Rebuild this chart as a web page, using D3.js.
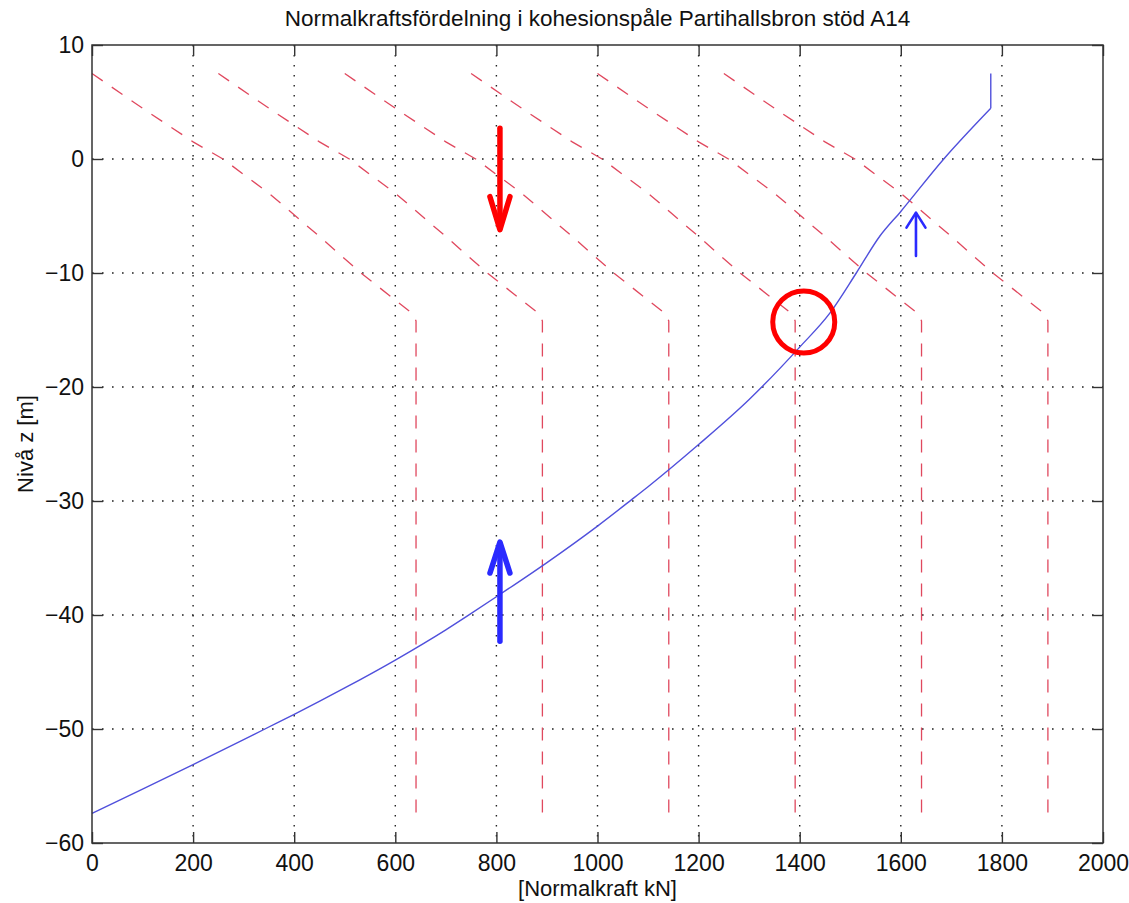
<!DOCTYPE html>
<html>
<head>
<meta charset="utf-8">
<script src="https://cdn.jsdelivr.net/npm/d3@7"></script>
<style>
  html, body { margin: 0; padding: 0; background: #fff; }
  svg { display: block; font-family: "Liberation Sans", Arial, sans-serif; }
</style>
</head>
<body>
<svg id="chart" width="1129" height="903"></svg>
<script>
// ---------------- data ----------------
const title = "Normalkraftsfördelning i kohesionspåle Partihallsbron stöd A14";
const xLabel = "[Normalkraft kN]";
const yLabel = "Nivå z [m]";
const xTicks = [0, 200, 400, 600, 800, 1000, 1200, 1400, 1600, 1800, 2000];
const yTicks = [10, 0, -10, -20, -30, -40, -50, -60];

// red dashed curves (same z levels for all six)
const redZ  = [7.5, 4.45, 1.5, 0, -3.0, -6.8, -10, -13.6, -14.2, -57.5];
const red1N = [0, 100, 200, 259, 350, 450, 532, 635, 641, 641];
const red2N = [250, 350, 450, 509, 600, 700, 782, 885, 891, 891];
const red3N = [500, 600, 700, 759, 850, 950, 1032, 1135, 1141, 1141];
const red4N = [750, 850, 950, 1009, 1100, 1200, 1282, 1385, 1391, 1391];
const red5N = [1000, 1100, 1200, 1259, 1350, 1450, 1532, 1635, 1641, 1641];
const red6N = [1250, 1350, 1450, 1509, 1600, 1700, 1782, 1885, 1891, 1891];
const redSeries = [red1N, red2N, red3N, red4N, red5N, red6N];

// blue curve (smooth part) + vertical top segment
const blueN = [0, 100, 200, 300, 342, 400, 500, 600, 700, 742, 800, 900, 1000, 1067, 1100, 1200, 1300, 1400, 1460, 1512, 1558, 1600, 1685, 1778];
const blueZ = [-57.4, -55.27, -53.12, -50.94, -50.0, -48.72, -46.4, -43.95, -41.3, -40.1, -38.4, -35.4, -32.2, -29.9, -28.75, -25.05, -21.1, -16.5, -13.5, -10, -6.8, -4.6, 0, 4.45];
const blueTopN = [1778, 1778];
const blueTopZ = [4.45, 7.5];

// annotations (data coords)
const redArrow = {n: 807, z0: 2.7, z1: -6.2};
const blueArrowBig = {n: 807, z0: -42.3, z1: -33.6};
const blueArrowSmall = {n: 1630, z0: -8.5, z1: -4.7};
const circle = {n: 1408, z: -14.3};

// ---------------- layout ----------------
const svg = d3.select("#chart");
const L = 92, R = 1103, T = 45, B = 843;
const x = d3.scaleLinear().domain([0, 2000]).range([L, R]);
const y = d3.scaleLinear().domain([-60, 10]).range([B, T]);

// grid
const grid = svg.append("g");
grid.selectAll("line.vg").data(xTicks.slice(1, -1)).join("line")
  .attr("x1", d => x(d)).attr("x2", d => x(d)).attr("y1", T).attr("y2", B)
  .attr("stroke", "#222").attr("stroke-width", 1.4).attr("stroke-dasharray", "1.6,8.4");
grid.selectAll("line.hg").data(yTicks.slice(1, -1)).join("line")
  .attr("y1", d => y(d)).attr("y2", d => y(d)).attr("x1", L).attr("x2", R)
  .attr("stroke", "#222").attr("stroke-width", 1.4).attr("stroke-dasharray", "1.6,8.4");

// red dashed lines
const line = d3.line().x(d => x(d[0])).y(d => y(d[1]));
svg.append("g").selectAll("path").data(redSeries).join("path")
  .attr("d", s => line(s.map((n, i) => [n, redZ[i]])))
  .attr("fill", "none").attr("stroke", "#e0485e").attr("stroke-width", 1.3)
  .attr("stroke-dasharray", "13,11");

// blue curve
const smooth = d3.line().x(d => x(d[0])).y(d => y(d[1])).curve(d3.curveMonotoneX);
const blueG = svg.append("g").attr("fill", "none").attr("stroke", "#5050dc").attr("stroke-width", 1.4);
blueG.append("path").attr("d", smooth(blueN.map((n, i) => [n, blueZ[i]])));
blueG.append("path").attr("d", line(blueTopN.map((n, i) => [n, blueTopZ[i]])));

// axes (ticks inward, box)
const tickLen = 11;
const xAxisB = d3.axisBottom(x).tickValues(xTicks).tickSize(-tickLen).tickPadding(12).tickFormat(d3.format("d"));
const xAxisT = d3.axisTop(x).tickValues(xTicks).tickSize(-tickLen).tickFormat("");
const yAxisL = d3.axisLeft(y).tickValues(yTicks).tickSize(-tickLen).tickPadding(8);
const yAxisR = d3.axisRight(y).tickValues(yTicks).tickSize(-tickLen).tickFormat("");

function style(g) {
  g.select(".domain").remove();
  g.selectAll(".tick line").attr("stroke", "#333").attr("stroke-width", 1.4);
  g.selectAll(".tick text").attr("fill", "#111").attr("font-size", 23)
    .attr("font-family", "Liberation Sans, Arial, sans-serif");
}
svg.append("g").attr("transform", `translate(0,${B})`).call(xAxisB).call(style);
svg.append("g").attr("transform", `translate(0,${T})`).call(xAxisT).call(style);
svg.append("g").attr("transform", `translate(${L},0)`).call(yAxisL).call(style);
svg.append("g").attr("transform", `translate(${R},0)`).call(yAxisR).call(style);

svg.append("rect").attr("x", L).attr("y", T).attr("width", R - L).attr("height", B - T)
  .attr("fill", "none").attr("stroke", "#333").attr("stroke-width", 1.5);

// annotations
function arrow(a, color, w, headW, headH) {
  const g = svg.append("g").attr("stroke", color).attr("stroke-width", w)
    .attr("fill", "none").attr("stroke-linecap", "round").attr("stroke-linejoin", "round");
  const X = x(a.n), Y0 = y(a.z0), Y1 = y(a.z1);
  const dir = Y1 > Y0 ? 1 : -1;
  g.append("line").attr("x1", X).attr("x2", X).attr("y1", Y0).attr("y2", Y1 - dir * w * 0.3);
  g.append("path").attr("d", `M${X - headW},${Y1 - dir * headH} L${X},${Y1} L${X + headW},${Y1 - dir * headH}`);
}
arrow(redArrow, "#ff0000", 5.5, 10, 33);
arrow(blueArrowBig, "#2a2aff", 5.5, 10, 31);
arrow(blueArrowSmall, "#2a2aff", 2.6, 9.5, 15);

svg.append("circle").attr("cx", x(circle.n)).attr("cy", y(circle.z)).attr("r", 31)
  .attr("fill", "none").attr("stroke", "#ff0000").attr("stroke-width", 5);

// texts
svg.append("text").attr("x", (L + R) / 2).attr("y", 26).attr("text-anchor", "middle")
  .attr("font-size", 22.5).attr("fill", "#111").text(title);
svg.append("text").attr("x", (L + R) / 2).attr("y", 896).attr("text-anchor", "middle")
  .attr("font-size", 22).attr("fill", "#111").text(xLabel);
svg.append("text").attr("transform", `translate(33,${(T + B) / 2}) rotate(-90)`)
  .attr("text-anchor", "middle").attr("font-size", 22).attr("fill", "#111").text(yLabel);
</script>
</body>
</html>
